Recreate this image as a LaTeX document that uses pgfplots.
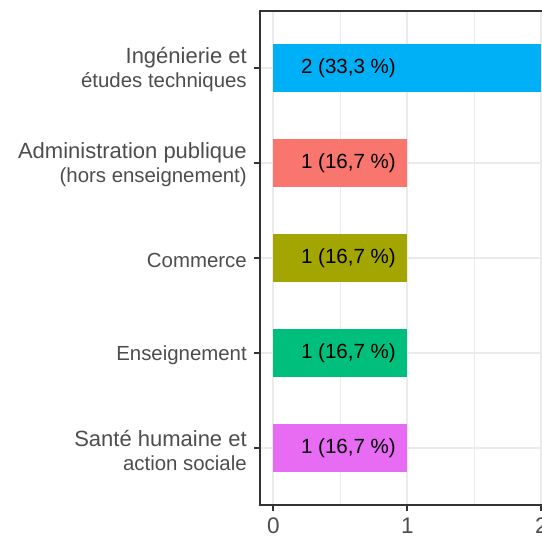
\documentclass[border=0pt]{standalone}
\usepackage{pgfplots}
\pgfplotsset{compat=1.18}
\usepackage{fontspec}
\setmainfont{Liberation Sans}
\definecolor{cIng}{HTML}{00B0F6}
\definecolor{cAdm}{HTML}{F8766D}
\definecolor{cCom}{HTML}{A3A500}
\definecolor{cEns}{HTML}{00BF7D}
\definecolor{cSan}{HTML}{E76BF3}
\definecolor{gridc}{HTML}{EBEBEB}
\definecolor{borderc}{HTML}{333333}
\definecolor{txtc}{HTML}{4D4D4D}
\newcommand{\fontBigLine}{\fontsize{16.5}{18}\selectfont}
\newcommand{\fontSmlLine}{\fontsize{15.3}{18}\selectfont}
\pgfplotstableread[row sep=\\]{
x y label\\
0.56 1 {2 (33,3 \%)}\\
0.56 2 {1 (16,7 \%)}\\
0.56 3 {1 (16,7 \%)}\\
0.56 4 {1 (16,7 \%)}\\
0.56 5 {1 (16,7 \%)}\\
}\labels
\begin{document}
\begin{tikzpicture}
\useasboundingbox (0,0) rectangle (406.5pt,402.75pt);
\clip (0,0) rectangle (406.5pt,402.75pt);
\begin{axis}[
  at={(195pt,24pt)}, anchor=south west,
  scale only axis, width=221.1pt, height=370.5pt,
  xmin=-0.1, xmax=2.1, ymin=0.4, ymax=5.6, y dir=reverse,
  xtick={0,1,2}, ytick={1,2,3,4,5}, minor xtick={0.5,1.5},
  yticklabels={{\fontBigLine Ingénierie et\\\fontSmlLine études techniques},{\fontBigLine Administration publique\\\fontSmlLine (hors enseignement)},{\fontSmlLine Commerce},{\fontSmlLine Enseignement},{\fontBigLine Santé humaine et\\\fontSmlLine action sociale}},
  xmajorgrids, ymajorgrids, xminorgrids,
  major grid style={color=gridc, line width=1.5pt},
  minor grid style={color=gridc, line width=0.8pt},
  axis line style={color=borderc, line width=1.5pt},
  tick align=outside, major tick length=4.5pt, minor tick length=0pt,
  tick pos=left,
  major tick style={color=borderc, line width=1.5pt},
  /pgf/number format/assume math mode=true,
  yticklabel style={align=right, inner sep=0pt, xshift=-5.25pt, yshift=-1.5pt, text=txtc, font=\fontSmlLine},
  xticklabel style={inner sep=0pt, yshift=-4.8pt, text=txtc, font=\fontsize{16.9}{18}\selectfont},
]
\addplot[xbar, bar shift=0pt, bar width=35.6pt, fill=cIng, draw=none] coordinates {(2,1)};
\addplot[xbar, bar shift=0pt, bar width=35.6pt, fill=cAdm, draw=none] coordinates {(1,2)};
\addplot[xbar, bar shift=0pt, bar width=35.6pt, fill=cCom, draw=none] coordinates {(1,3)};
\addplot[xbar, bar shift=0pt, bar width=35.6pt, fill=cEns, draw=none] coordinates {(1,4)};
\addplot[xbar, bar shift=0pt, bar width=35.6pt, fill=cSan, draw=none] coordinates {(1,5)};
\addplot[only marks, mark=none, point meta=explicit symbolic, nodes near coords,
  nodes near coords style={anchor=center, inner sep=0pt, font=\fontsize{15.4}{17}\selectfont, text=black}]
  table[x=x, y=y, meta=label] {\labels};
\end{axis}
\end{tikzpicture}
\end{document}
